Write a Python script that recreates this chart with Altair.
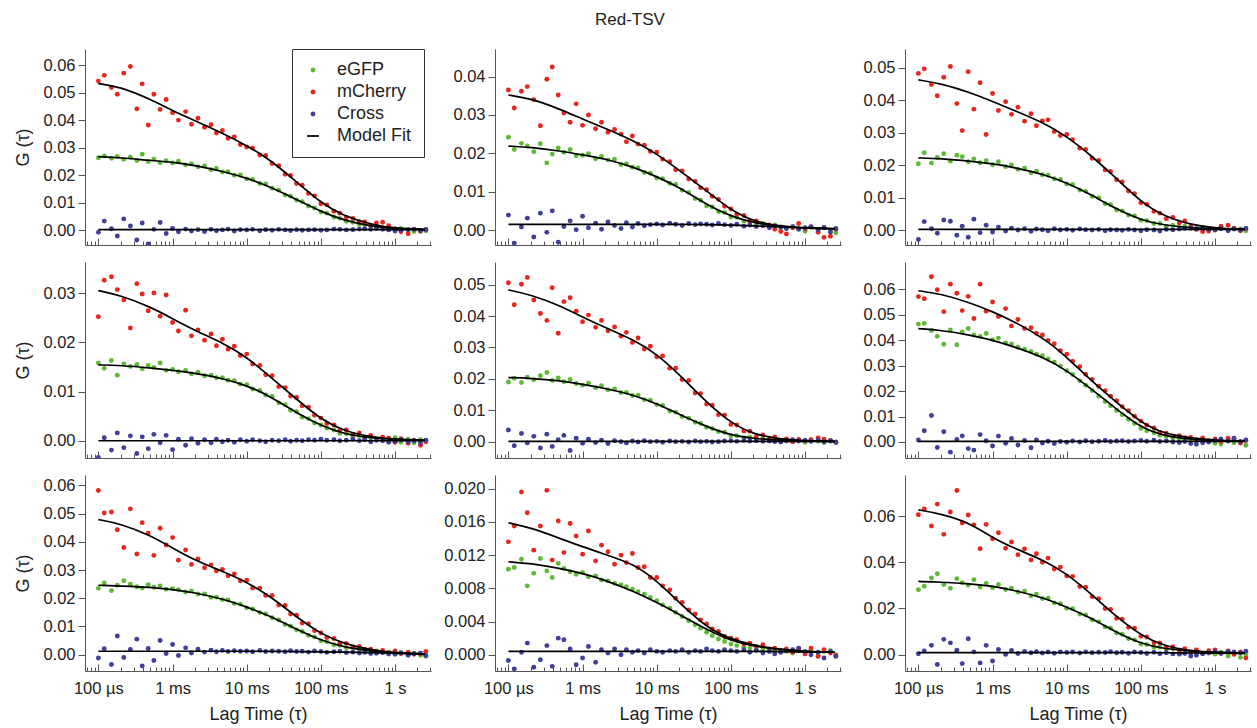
import altair as alt
import pandas as pd

FONT = "Liberation Sans"
G_UNIT = 1e-3  # every G(tau) value below is written in units of 1e-3

# lag times of the data points (ms) and of the fit-curve samples (ms)
LAG_MS = [0.10, 0.12, 0.15, 0.18, 0.22, 0.27, 0.33, 0.39, 0.47, 0.56, 0.68, 0.82,
          1.0, 1.2, 1.5, 1.8, 2.2, 2.7, 3.3, 3.9, 4.7, 5.6, 6.8, 8.2,
          10, 12, 15, 18, 22, 27, 33, 39, 47, 56, 68, 82,
          100, 120, 150, 180, 220, 270, 330, 390, 470, 560, 680, 820,
          1000, 1200, 1500, 1800, 2200, 2600]
FIT_LAG_MS = [0.1, 0.2, 0.5, 1, 2, 5, 10, 20, 50, 100, 200, 500, 1000, 2500]

# ---------------- panel 1 (top left) ----------------
P11_EGFP = [26.4, 27.0, 26.2, 26.9, 25.8, 26.6, 25.4, 27.7, 25.0, 25.9, 24.6, 25.3,
            24.5, 25.1, 23.8, 24.2, 23.1, 23.4, 22.0, 22.5, 21.2, 21.3, 20.0, 20.1,
            18.7, 18.5, 17.0, 16.8, 15.3, 14.6, 12.8, 12.4, 11.0, 10.4, 8.8, 8.1,
            6.6, 6.2, 4.8, 4.3, 3.2, 2.9, 2.1, 2.0, 1.3, 1.3, 0.8, 0.9,
            0.4, 0.6, 0.1, -0.5, -0.4, -0.2]
P11_MCHERRY = [54.3, 56.4, 52.0, 49.5, 57.2, 59.6, 44.2, 53.3, 38.3, 49.5, 44.0, 47.6,
               42.8, 40.1, 43.2, 38.6, 40.8, 37.5, 38.4, 35.4, 36.3, 33.5, 34.0, 31.2,
               30.3, 29.9, 27.4, 27.2, 24.3, 23.5, 20.4, 19.9, 17.0, 16.4, 13.4, 12.5,
               9.6, 9.2, 6.9, 6.2, 4.6, 4.3, 3.1, 3.0, 1.8, 2.6, 2.9, 1.6,
               0.5, -0.6, -1.3, 0.4, -0.3, 0.3]
P11_CROSS = [-0.8, 3.3, 0.5, -2.1, 4.1, 1.5, -3.6, 2.6, -5.0, 0.3, 2.8, -1.2,
             0.6, -0.6, 0.4, -0.3, 0.2, -0.5, 0.3, -0.2, 0.1, 0.4, -0.3, 0.2,
             0.1, 0.3, -0.2, 0.2, 0.0, 0.3, 0.1, -0.1, 0.2, 0.0, 0.1, 0.2,
             0.0, 0.1, 0.4, 0.3, 0.1, 0.2, 0.4, 0.5, 0.3, 0.6, 0.3, 0.1,
             -0.3, 0.0, 0.2, 0.3, -0.1, 0.2]
P11_EGFP_FIT = [26.8, 26.4, 25.4, 24.8, 23.6, 21.3, 19.0, 16.0, 10.8, 6.8, 3.6, 1.3, 0.6, 0.2]
P11_MCHERRY_FIT = [53.4, 52.2, 47.7, 43.5, 39.9, 35.0, 30.8, 26.0, 17.0, 10.0, 5.2, 1.9, 0.7, 0.2]
P11_CROSS_FIT = [0.2, 0.2, 0.2, 0.2, 0.2, 0.2, 0.2, 0.2, 0.2, 0.2, 0.2, 0.2, 0.2, 0.2]
P11_Y_DOMAIN = [-0.0054, 0.066]
P11_Y_TICKS = [0.0, 0.01, 0.02, 0.03, 0.04, 0.05, 0.06]

# ---------------- panel 2 (top middle) ----------------
P12_EGFP = [24.2, 21.0, 22.6, 21.9, 20.4, 22.5, 17.5, 19.8, 21.4, 20.3, 21.0, 19.4,
            19.5, 19.9, 18.6, 19.2, 18.3, 18.5, 17.1, 17.2, 16.4, 16.2, 15.0, 14.8,
            13.6, 13.4, 12.2, 11.9, 10.4, 9.8, 8.2, 7.8, 6.3, 6.0, 4.8, 4.6,
            3.4, 3.3, 2.3, 2.2, 1.5, 1.7, 1.0, 1.3, 0.6, 0.4, 0.9, 0.3,
            -0.3, 0.7, 0.1, 0.6, -0.4, -0.7]
P12_MCHERRY = [36.5, 31.8, 36.2, 37.4, 34.0, 27.2, 39.3, 42.5, 35.2, 30.5, 28.1, 32.9,
               27.3, 30.0, 26.4, 28.1, 25.5, 26.2, 25.0, 23.0, 24.5, 22.4, 22.1, 20.5,
               20.3, 18.5, 17.8, 15.7, 15.4, 13.3, 12.7, 11.0, 10.5, 8.8, 8.0, 6.2,
               5.5, 4.1, 3.8, 2.3, 2.4, 1.1, 1.3, 0.2, -0.4, -1.0, 0.6, 1.7,
               0.3, 0.8, -0.6, -1.9, -1.6, 0.2]
P12_CROSS = [3.9, -3.4, 0.8, 3.1, -1.8, 4.4, -0.6, 5.0, -3.2, 0.9, 2.4, 0.1,
             3.6, 0.6, 1.8, 0.2, 2.1, 1.2, 0.4, 1.9, 0.8, 1.7, 1.1, 1.4,
             1.6, 1.3, 1.8, 1.5, 1.2, 1.7, 1.4, 1.6, 1.5, 1.3, 1.7, 1.4,
             1.2, 1.5, 1.0, 1.3, 0.9, 1.2, 0.6, 1.0, 0.8, 0.4, 0.9, 0.2,
             0.6, 0.9, 0.1, 0.7, -0.5, 0.4]
P12_EGFP_FIT = [21.9, 21.6, 20.6, 19.6, 18.6, 16.4, 13.9, 11.2, 6.3, 3.6, 1.9, 0.9, 0.5, 0.3]
P12_MCHERRY_FIT = [35.2, 34.3, 31.5, 28.9, 26.6, 23.2, 19.9, 15.6, 9.8, 5.2, 2.2, 0.9, 0.5, 0.3]
P12_CROSS_FIT = [1.5, 1.5, 1.5, 1.5, 1.5, 1.5, 1.5, 1.5, 1.4, 1.3, 1.1, 0.8, 0.6, 0.4]
P12_Y_DOMAIN = [-0.0039, 0.0472]
P12_Y_TICKS = [0.0, 0.01, 0.02, 0.03, 0.04]

# ---------------- panel 3 (top right) ----------------
P13_EGFP = [20.4, 23.8, 20.6, 22.3, 23.5, 21.2, 23.0, 22.6, 21.0, 21.9, 20.7, 21.3,
            20.1, 21.0, 19.5, 20.0, 18.7, 19.0, 17.6, 18.1, 17.0, 16.9, 15.8, 15.6,
            14.2, 14.0, 12.3, 11.9, 10.4, 9.9, 8.1, 7.8, 6.2, 5.9, 4.6, 4.3,
            3.0, 2.9, 2.0, 2.0, 1.1, 1.5, 0.8, 1.2, 0.5, 0.4, 0.9, 0.2,
            -0.1, 0.6, 0.0, 0.5, 0.3, -0.2]
P13_MCHERRY = [48.2, 49.6, 44.8, 41.3, 47.0, 50.3, 38.9, 30.6, 48.7, 37.2, 45.3, 29.4,
               42.0, 36.8, 39.5, 35.6, 37.8, 33.5, 35.8, 32.1, 33.6, 33.9, 30.3, 29.1,
               29.4, 27.8, 25.2, 24.8, 22.1, 21.4, 18.5, 18.0, 15.5, 14.8, 12.0, 11.2,
               8.4, 7.9, 5.8, 5.2, 3.5, 3.9, 2.2, 2.8, 1.1, 0.2, -0.5, -0.3,
               0.2, 1.2, 1.5, 0.6, -0.2, 0.4]
P13_CROSS = [-2.9, 2.6, 0.4, -1.0, 3.1, 2.7, -1.6, 1.2, -2.2, 3.3, -0.8, 1.5,
             -0.6, 0.9, -0.3, 0.6, 0.0, 0.4, -0.4, 0.3, 0.1, -0.2, 0.4, 0.0,
             0.2, -0.1, 0.3, 0.1, 0.0, 0.2, -0.2, 0.1, 0.0, -0.1, 0.2, 0.0,
             -0.2, 0.1, 0.0, -0.3, 0.2, 0.1, 0.3, 0.5, 0.6, 0.4, 0.5, 0.2,
             0.1, 0.4, -0.2, 0.3, 0.0, 0.5]
P13_EGFP_FIT = [22.2, 22.0, 21.2, 20.4, 19.2, 17.1, 14.5, 11.2, 6.1, 3.1, 1.5, 0.7, 0.4, 0.2]
P13_MCHERRY_FIT = [46.2, 45.1, 42.3, 39.6, 36.7, 32.9, 28.8, 23.5, 15.3, 8.7, 4.3, 1.5, 0.6, 0.2]
P13_CROSS_FIT = [0.2, 0.2, 0.2, 0.2, 0.2, 0.2, 0.2, 0.2, 0.2, 0.2, 0.2, 0.2, 0.2, 0.2]
P13_Y_DOMAIN = [-0.0046, 0.0557]
P13_Y_TICKS = [0.0, 0.01, 0.02, 0.03, 0.04, 0.05]

# ---------------- panel 4 (middle left) ----------------
P21_EGFP = [15.8, 14.7, 16.3, 13.3, 15.6, 15.1, 15.5, 14.6, 15.3, 14.9, 15.8, 14.3,
            14.5, 14.0, 14.3, 13.6, 13.9, 13.2, 13.3, 12.8, 12.8, 12.3, 12.2, 11.5,
            11.4, 10.5, 10.2, 9.3, 9.0, 7.7, 7.3, 6.2, 5.9, 4.8, 4.5, 3.6,
            3.2, 2.6, 2.2, 1.5, 1.4, 0.9, 1.0, 0.5, 0.6, 0.2, 0.4, 0.1,
            0.6, -0.3, 0.3, -0.4, 0.2, 0.0]
P21_MCHERRY = [25.2, 32.6, 33.3, 30.7, 28.6, 22.9, 31.9, 29.8, 26.4, 30.0, 25.3, 29.6,
               24.0, 22.3, 26.5, 21.3, 22.5, 20.4, 21.7, 19.3, 20.6, 18.6, 19.2, 17.3,
               17.6, 15.6, 15.3, 13.4, 13.2, 11.0, 10.8, 9.1, 8.8, 7.1, 6.8, 5.2,
               4.6, 3.5, 3.2, 2.1, 2.2, 1.3, 1.6, 0.6, 1.1, 0.2, 0.7, 0.5,
               -0.3, 0.4, -0.5, 0.1, -0.9, -0.2]
P21_CROSS = [-3.4, 0.6, -1.9, 1.6, -1.4, 1.0, -2.6, 0.8, -1.6, 1.3, -0.4, 1.1,
             -1.8, 0.3, -0.9, 0.4, -0.5, 0.2, -0.4, 0.3, -0.2, 0.1, -0.3, 0.2,
             -0.1, 0.2, 0.0, -0.2, 0.1, 0.0, 0.2, -0.1, 0.1, 0.0, 0.2, 0.1,
             0.3, 0.1, 0.2, 0.0, 0.1, 0.3, 0.0, 0.2, -0.2, 0.1, 0.0, -0.3,
             -0.1, 0.2, -0.2, 0.0, -0.4, 0.1]
P21_EGFP_FIT = [15.4, 15.3, 14.8, 14.3, 13.7, 12.6, 11.2, 9.2, 5.4, 3.1, 1.4, 0.5, 0.3, 0.1]
P21_MCHERRY_FIT = [30.5, 29.5, 27.2, 24.8, 22.4, 19.7, 17.0, 13.2, 8.1, 4.4, 2.0, 0.7, 0.3, 0.1]
P21_CROSS_FIT = [0.0, 0.0, 0.0, 0.0, 0.0, 0.0, 0.0, 0.0, 0.0, 0.0, 0.0, 0.0, 0.0, 0.0]
P21_Y_DOMAIN = [-0.0035, 0.0363]
P21_Y_TICKS = [0.0, 0.01, 0.02, 0.03]

# ---------------- panel 5 (centre) ----------------
P22_EGFP = [19.0, 20.2, 18.8, 20.5, 19.7, 21.0, 22.0, 19.5, 20.3, 19.1, 19.8, 18.5,
            18.0, 18.6, 17.2, 17.8, 16.5, 16.8, 15.6, 15.7, 14.7, 14.8, 13.4, 13.2,
            11.8, 11.5, 9.8, 9.4, 8.0, 7.5, 6.2, 5.8, 4.6, 4.2, 3.2, 3.0,
            1.9, 1.9, 1.3, 1.4, 0.7, 1.0, 0.5, 0.8, 0.2, 0.5, 0.0, 0.4,
            -0.2, 0.6, 0.1, -0.3, 0.3, -0.1]
P22_MCHERRY = [50.6, 43.6, 50.1, 52.3, 45.1, 40.8, 38.6, 49.0, 34.5, 44.6, 45.8, 41.5,
               38.2, 40.3, 36.4, 38.6, 35.3, 36.5, 33.6, 34.8, 31.6, 33.0, 29.5, 30.4,
               27.0, 27.3, 23.4, 23.4, 19.8, 19.5, 15.5, 15.3, 12.0, 11.6, 8.6, 8.4,
               5.5, 5.3, 3.4, 3.3, 1.6, 2.1, 1.0, 1.5, 0.4, 0.9, 0.0, 0.7,
               0.3, 0.6, 1.2, 0.8, 0.4, -0.3]
P22_CROSS = [3.7, -1.3, 2.6, -0.4, 1.7, -2.0, 2.4, -1.5, 0.6, 2.0, -2.8, 1.1,
             -0.5, 0.8, -0.3, 0.5, -0.6, 0.3, 0.0, -0.4, 0.2, -0.1, 0.3, 0.0,
             0.1, -0.2, 0.2, 0.0, 0.1, -0.1, 0.2, 0.0, 0.1, -0.1, 0.0, 0.2,
             0.3, 0.1, 0.4, 0.2, 0.3, 0.1, 0.2, 0.0, -0.1, 0.3, 0.6, 0.2,
             0.4, 0.1, 0.5, 0.0, 0.2, -0.2]
P22_EGFP_FIT = [20.4, 20.2, 19.4, 18.3, 17.0, 14.8, 12.1, 8.7, 4.5, 2.1, 1.0, 0.4, 0.2, 0.1]
P22_MCHERRY_FIT = [48.3, 46.8, 43.3, 39.6, 36.4, 32.3, 27.9, 21.5, 11.9, 6.0, 2.3, 0.7, 0.3, 0.1]
P22_CROSS_FIT = [0.1, 0.1, 0.1, 0.1, 0.1, 0.1, 0.1, 0.1, 0.1, 0.1, 0.1, 0.1, 0.1, 0.1]
P22_Y_DOMAIN = [-0.0052, 0.0572]
P22_Y_TICKS = [0.0, 0.01, 0.02, 0.03, 0.04, 0.05]

# ---------------- panel 6 (middle right) ----------------
P23_EGFP = [46.3, 46.6, 43.8, 41.5, 38.4, 44.0, 38.2, 43.2, 44.6, 42.0, 41.5, 42.6,
            40.2, 40.8, 38.9, 38.5, 37.2, 36.4, 35.6, 34.5, 33.9, 32.6, 31.3, 29.8,
            28.0, 26.5, 24.0, 22.3, 20.2, 18.0, 15.9, 14.2, 12.4, 10.7, 8.9, 7.3,
            5.4, 4.4, 3.6, 2.6, 2.1, 1.6, 1.2, 0.7, 0.9, 0.5, 1.1, 0.2,
            -0.5, -0.8, 0.5, -0.3, 0.0, -1.3]
P23_MCHERRY = [57.1, 56.3, 64.9, 59.8, 51.2, 62.0, 58.4, 51.6, 57.2, 48.5, 62.0, 51.4,
               55.0, 49.3, 52.4, 45.6, 48.1, 44.6, 44.9, 42.7, 42.0, 39.9, 38.6, 35.9,
               34.5, 31.7, 29.6, 26.6, 24.6, 21.9, 20.1, 18.0, 16.2, 13.9, 12.3, 10.1,
               8.2, 6.6, 5.5, 3.7, 3.4, 2.4, 2.5, 1.7, 1.8, 0.8, 1.6, 0.5,
               1.2, 0.2, 1.5, 0.9, -0.4, 0.6]
P23_CROSS = [0.8, 4.4, 10.4, -2.2, 4.0, -4.0, 1.0, 2.4, -2.6, -3.2, 2.9, 0.5,
             -1.6, 2.3, -0.5, 1.4, -1.2, 0.6, -2.3, 0.8, -0.4, 0.3, -0.6, 0.2,
             -0.1, 0.4, 0.0, 0.5, 0.1, 0.3, 0.6, 0.2, 0.4, 0.5, 0.2, 0.4,
             0.6, 0.3, 0.7, 0.2, 0.4, 0.0, -0.2, 0.2, -0.6, -0.9, -0.3, 0.0,
             0.6, 1.2, 0.4, 1.5, 0.2, 0.8]
P23_EGFP_FIT = [44.5, 43.9, 42.0, 40.0, 37.3, 33.1, 28.1, 21.5, 12.3, 5.7, 2.4, 0.9, 0.5, 0.3]
P23_MCHERRY_FIT = [59.4, 58.2, 54.7, 51.2, 47.2, 40.6, 33.4, 24.8, 14.9, 7.7, 3.3, 1.5, 0.7, 0.3]
P23_CROSS_FIT = [0.2, 0.2, 0.2, 0.2, 0.2, 0.2, 0.2, 0.2, 0.2, 0.2, 0.2, 0.2, 0.2, 0.2]
P23_Y_DOMAIN = [-0.0063, 0.0707]
P23_Y_TICKS = [0.0, 0.01, 0.02, 0.03, 0.04, 0.05, 0.06]

# ---------------- panel 7 (bottom left) ----------------
P31_EGFP = [23.5, 25.4, 22.7, 24.6, 26.2, 25.0, 24.1, 23.6, 24.8, 23.9, 24.4, 23.2,
            23.4, 23.0, 22.2, 22.6, 21.5, 21.5, 20.3, 20.4, 19.5, 19.4, 18.1, 17.9,
            16.6, 16.2, 14.9, 14.4, 13.1, 12.3, 10.7, 10.1, 8.8, 8.2, 6.9, 6.3,
            4.9, 4.6, 3.5, 3.3, 2.4, 2.4, 1.7, 1.8, 1.1, 1.3, 0.7, 0.9,
            0.4, 0.7, 0.0, 0.5, -0.2, -0.6]
P31_MCHERRY = [58.2, 50.2, 50.6, 44.3, 38.0, 51.7, 35.7, 46.8, 43.1, 35.2, 44.8, 38.9,
               41.5, 33.5, 37.1, 32.0, 33.9, 30.8, 31.8, 29.7, 30.2, 28.0, 28.6, 26.2,
               26.4, 23.6, 23.6, 21.0, 21.0, 17.6, 17.4, 14.4, 14.0, 11.2, 11.0, 8.5,
               7.7, 6.1, 5.7, 4.0, 4.0, 2.7, 2.9, 1.8, 1.9, 1.0, 1.5, 0.6,
               1.3, 0.4, 0.9, 0.1, 0.3, 1.1]
P31_CROSS = [-1.2, 2.1, -3.5, 6.6, -1.0, 1.8, 5.5, -4.0, 2.2, -2.1, 5.0, 0.4,
             3.6, -0.3, 2.4, 0.6, 1.9, 0.9, 1.6, 1.0, 1.5, 1.1, 1.4, 1.2,
             1.3, 1.0, 1.5, 1.1, 1.3, 1.2, 1.0, 1.4, 1.1, 1.2, 0.9, 1.3,
             1.1, 0.8, 1.0, 1.2, 0.7, 0.9, 0.6, 0.8, 0.4, 0.5, 0.7, 0.2,
             0.1, 0.6, -0.2, 0.3, 0.5, -0.3]
P31_EGFP_FIT = [24.6, 24.3, 23.9, 23.1, 22.0, 19.6, 16.9, 13.9, 8.6, 5.1, 2.7, 1.2, 0.6, 0.2]
P31_MCHERRY_FIT = [47.9, 46.4, 42.3, 37.8, 33.4, 29.3, 25.7, 21.0, 12.8, 7.4, 3.9, 1.5, 0.7, 0.2]
P31_CROSS_FIT = [1.2, 1.2, 1.2, 1.2, 1.2, 1.2, 1.2, 1.2, 1.1, 1.0, 0.9, 0.7, 0.5, 0.3]
P31_Y_DOMAIN = [-0.0058, 0.0637]
P31_Y_TICKS = [0.0, 0.01, 0.02, 0.03, 0.04, 0.05, 0.06]

# ---------------- panel 8 (bottom middle) ----------------
P32_EGFP = [10.3, 10.5, 11.5, 8.3, 9.8, 11.6, 10.1, 9.3, 11.0, 10.4, 10.0, 9.7,
            9.9, 9.4, 9.5, 9.0, 8.9, 8.6, 8.4, 8.2, 7.9, 7.6, 7.3, 6.9,
            6.5, 6.0, 5.6, 5.1, 4.6, 4.1, 3.6, 3.2, 2.7, 2.3, 1.9, 1.6,
            1.3, 1.1, 0.9, 0.8, 0.6, 0.6, 0.4, 0.5, 0.3, 0.4, 0.2, 0.5,
            0.1, 0.6, -0.1, 0.4, 0.5, 0.0]
P32_MCHERRY = [13.6, 15.5, 19.6, 17.1, 12.6, 15.5, 19.8, 11.4, 16.1, 12.3, 15.8, 14.3,
               12.1, 14.9, 11.3, 13.2, 12.4, 10.9, 12.0, 11.1, 12.2, 10.5, 10.6, 9.3,
               9.3, 8.3, 7.8, 6.8, 6.3, 5.4, 4.9, 4.2, 3.7, 3.1, 2.8, 2.2,
               2.0, 1.8, 1.3, 1.4, 1.0, 1.2, 0.7, 0.8, 0.5, 0.7, 0.3, 0.7,
               0.1, 0.8, -0.2, 0.6, 0.2, -0.1]
P32_CROSS = [-0.7, -1.7, 0.3, 1.4, -1.5, -0.6, 1.1, -1.4, 2.0, 1.8, 0.7, -1.2,
             -0.4, 1.0, -0.9, 0.6, 0.2, 0.7, 0.0, 0.6, 0.3, 0.5, 0.2, 0.6,
             0.4, 0.3, 0.5, 0.4, 0.6, 0.3, 0.5, 0.4, 0.7, 0.5, 0.4, 0.6,
             0.5, 0.4, 0.6, 0.3, 0.5, 0.2, 0.4, 0.1, 0.3, 0.5, 0.6, 0.8,
             0.4, 0.0, 0.3, -0.4, 0.4, -0.2]
P32_EGFP_FIT = [11.2, 11.0, 10.4, 9.8, 9.0, 7.6, 6.3, 4.9, 2.9, 1.7, 1.0, 0.6, 0.4, 0.3]
P32_MCHERRY_FIT = [15.9, 15.3, 14.0, 13.0, 12.1, 10.9, 8.9, 6.3, 3.1, 1.9, 1.1, 0.6, 0.4, 0.3]
P32_CROSS_FIT = [0.4, 0.4, 0.4, 0.4, 0.4, 0.4, 0.4, 0.4, 0.4, 0.4, 0.4, 0.4, 0.3, 0.3]
P32_Y_DOMAIN = [-0.00196, 0.02165]
P32_Y_TICKS = [0.0, 0.004, 0.008, 0.012, 0.016, 0.020]

# ---------------- panel 9 (bottom right) ----------------
P33_EGFP = [28.1, 29.6, 33.2, 35.0, 30.4, 28.7, 32.9, 31.2, 30.1, 32.4, 29.3, 30.8,
            29.0, 30.4, 28.2, 28.8, 27.1, 27.5, 25.5, 26.2, 24.3, 24.4, 22.4, 22.0,
            20.1, 19.9, 17.6, 17.2, 15.1, 14.3, 12.0, 11.4, 9.4, 8.8, 7.0, 6.4,
            4.6, 4.4, 3.2, 3.2, 2.1, 2.5, 1.4, 2.0, 0.8, 1.5, 0.5, 1.3,
            0.2, 1.0, -0.6, 0.4, -1.2, 0.3]
P33_MCHERRY = [60.6, 63.1, 55.7, 65.2, 52.1, 61.8, 71.1, 57.0, 60.5, 56.2, 45.9, 56.4,
               50.2, 52.8, 46.1, 48.8, 43.3, 45.8, 41.0, 43.7, 40.0, 41.8, 37.1, 37.9,
               34.1, 33.9, 29.5, 29.2, 25.1, 24.2, 20.0, 19.6, 15.7, 15.3, 11.8, 11.4,
               7.9, 7.6, 5.1, 5.0, 3.0, 3.4, 1.9, 2.6, 1.2, 2.0, 0.6, 1.7,
               2.0, 0.5, 1.6, 0.1, 1.1, -1.5]
P33_CROSS = [0.4, 1.6, 4.0, -4.3, 6.6, 5.1, 1.9, -3.9, 6.9, 1.2, -3.6, 4.0,
             -2.8, 2.2, 0.1, 1.8, 0.5, 1.4, 0.8, 1.3, 0.7, 1.1, 0.6, 1.2,
             0.9, 1.1, 0.7, 1.2, 0.8, 1.0, 0.9, 1.3, 0.8, 1.0, 0.6, 1.1,
             0.9, 0.5, 1.0, 0.4, 0.8, 0.3, 0.2, 0.5, -0.6, -0.3, 0.4, 0.7,
             1.3, 0.6, 1.4, 1.1, 0.8, 1.5]
P33_EGFP_FIT = [31.7, 31.4, 30.7, 29.7, 27.8, 24.5, 20.6, 16.3, 9.1, 4.8, 2.6, 1.4, 1.0, 0.7]
P33_MCHERRY_FIT = [62.7, 61.0, 57.0, 50.5, 45.9, 40.8, 35.0, 27.1, 15.6, 8.4, 3.8, 1.4, 0.9, 0.7]
P33_CROSS_FIT = [0.9, 0.9, 0.9, 0.9, 0.9, 0.9, 0.9, 0.9, 0.9, 0.9, 0.8, 0.7, 0.6, 0.5]
P33_Y_DOMAIN = [-0.0071, 0.0778]
P33_Y_TICKS = [0.0, 0.02, 0.04, 0.06]

SERIES = ["eGFP", "mCherry", "Cross"]
LEGEND_DOMAIN = ["eGFP", "mCherry", "Cross", "Model Fit"]
LEGEND_COLORS = ["#5fb936", "#e5261f", "#3e3f98", "#000000"]
LINE_SYMBOL = "M-2.4,-0.36H2.4V0.36H-2.4Z"
LEGEND_SHAPES = ["circle", "circle", "circle", LINE_SYMBOL]

X_DOMAIN = [6.6e-5, 3.05]
X_TICKS = [7e-5, 8e-5, 9e-5,
           1e-4, 2e-4, 3e-4, 4e-4, 5e-4, 6e-4, 7e-4, 8e-4, 9e-4,
           1e-3, 2e-3, 3e-3, 4e-3, 5e-3, 6e-3, 7e-3, 8e-3, 9e-3,
           0.01, 0.02, 0.03, 0.04, 0.05, 0.06, 0.07, 0.08, 0.09,
           0.1, 0.2, 0.3, 0.4, 0.5, 0.6, 0.7, 0.8, 0.9,
           1.0, 2.0, 3.0]
MAJOR = "abs(log(datum.value)/LN10 - round(log(datum.value)/LN10)) < 0.001"
LABEL_EXPR = ("abs(datum.value - 0.0001) < 0.000000001 ? '100 µs' : "
              "abs(datum.value - 0.001) < 0.00000001 ? '1 ms' : "
              "abs(datum.value - 0.01) < 0.0000001 ? '10 ms' : "
              "abs(datum.value - 0.1) < 0.000001 ? '100 ms' : "
              "abs(datum.value - 1) < 0.00001 ? '1 s' : ''")

PANELS = [
    ([P11_EGFP, P11_MCHERRY, P11_CROSS], [P11_EGFP_FIT, P11_MCHERRY_FIT, P11_CROSS_FIT], P11_Y_DOMAIN, P11_Y_TICKS, ".2f"),
    ([P12_EGFP, P12_MCHERRY, P12_CROSS], [P12_EGFP_FIT, P12_MCHERRY_FIT, P12_CROSS_FIT], P12_Y_DOMAIN, P12_Y_TICKS, ".2f"),
    ([P13_EGFP, P13_MCHERRY, P13_CROSS], [P13_EGFP_FIT, P13_MCHERRY_FIT, P13_CROSS_FIT], P13_Y_DOMAIN, P13_Y_TICKS, ".2f"),
    ([P21_EGFP, P21_MCHERRY, P21_CROSS], [P21_EGFP_FIT, P21_MCHERRY_FIT, P21_CROSS_FIT], P21_Y_DOMAIN, P21_Y_TICKS, ".2f"),
    ([P22_EGFP, P22_MCHERRY, P22_CROSS], [P22_EGFP_FIT, P22_MCHERRY_FIT, P22_CROSS_FIT], P22_Y_DOMAIN, P22_Y_TICKS, ".2f"),
    ([P23_EGFP, P23_MCHERRY, P23_CROSS], [P23_EGFP_FIT, P23_MCHERRY_FIT, P23_CROSS_FIT], P23_Y_DOMAIN, P23_Y_TICKS, ".2f"),
    ([P31_EGFP, P31_MCHERRY, P31_CROSS], [P31_EGFP_FIT, P31_MCHERRY_FIT, P31_CROSS_FIT], P31_Y_DOMAIN, P31_Y_TICKS, ".2f"),
    ([P32_EGFP, P32_MCHERRY, P32_CROSS], [P32_EGFP_FIT, P32_MCHERRY_FIT, P32_CROSS_FIT], P32_Y_DOMAIN, P32_Y_TICKS, ".3f"),
    ([P33_EGFP, P33_MCHERRY, P33_CROSS], [P33_EGFP_FIT, P33_MCHERRY_FIT, P33_CROSS_FIT], P33_Y_DOMAIN, P33_Y_TICKS, ".2f"),
]

PANEL_W, PANEL_H = 346, 196


def make_panel(idx, pts_lists, fit_lists, ydom, yticks, yfmt):
    row, col = divmod(idx, 3)
    prow, frow = [], []
    for name, vals in zip(SERIES, pts_lists):
        assert len(vals) == len(LAG_MS), (idx, name, len(vals))
        for t, v in zip(LAG_MS, vals):
            prow.append({"lag": t / 1000.0, "g": v * G_UNIT, "series": name})
    for name, vals in zip(SERIES, fit_lists):
        assert len(vals) == len(FIT_LAG_MS), (idx, name, len(vals))
        for t, v in zip(FIT_LAG_MS, vals):
            frow.append({"lag": t / 1000.0, "g": v * G_UNIT, "series": name})
    pdf, fdf = pd.DataFrame(prow), pd.DataFrame(frow)

    x_axis = alt.Axis(
        values=X_TICKS, labelExpr=LABEL_EXPR, labels=(row == 2), labelOverlap=False,
        labelFlush=False, tickSize={"expr": f"{MAJOR} ? -7 : -4"}, labelPadding=16,
        title="Lag Time (τ)" if row == 2 else None, titlePadding=6, grid=False,
    )
    y_axis = alt.Axis(
        values=yticks, format=yfmt, tickSize=7, labelPadding=3, grid=False,
        title="G (τ)" if col == 0 else None, titlePadding=10,
    )
    x = alt.X("lag:Q", scale=alt.Scale(type="log", domain=X_DOMAIN, nice=False), axis=x_axis)
    y = alt.Y("g:Q", scale=alt.Scale(domain=ydom, nice=False, zero=False), axis=y_axis)

    if idx == 0:
        legend = alt.Legend(
            title=None, orient="none", legendX=207, legendY=0, direction="vertical",
            labelFont=FONT, labelFontSize=18, labelColor="#222222", labelOffset=15,
            symbolSize=24, symbolStrokeWidth=0, padding=12, rowPadding=4,
            strokeColor="#333333", fillColor="white", labelLimit=300,
        )
    else:
        legend = None
    color = alt.Color("series:N", scale=alt.Scale(domain=LEGEND_DOMAIN, range=LEGEND_COLORS), legend=legend)
    shape = alt.Shape("series:N", scale=alt.Scale(domain=LEGEND_DOMAIN, range=LEGEND_SHAPES), legend=legend)

    points = alt.Chart(pdf).mark_point(filled=True, size=24, opacity=1, clip=True).encode(
        x=x, y=y, color=color, shape=shape
    )
    fits = alt.Chart(fdf).mark_line(color="black", strokeWidth=1.7, interpolate="basis", clip=True).encode(
        x=x, y=y, detail="series:N"
    )
    return alt.layer(points, fits).properties(width=PANEL_W, height=PANEL_H)


panels = [make_panel(i, *p) for i, p in enumerate(PANELS)]

chart = (
    alt.concat(*panels, columns=3)
    .properties(
        spacing={"row": 17, "column": 64},
        bounds="flush",
        padding={"left": 14, "top": 10, "right": 2, "bottom": 2},
        title=alt.TitleParams(
            "Red-TSV", font=FONT, fontSize=17, fontWeight="normal", color="#222222",
            anchor="middle", offset=20, dx=-3,
        ),
    )
    .resolve_scale(x="independent", y="independent", color="independent", shape="independent")
    .configure(font=FONT, background="white")
    .configure_view(stroke=None)
    .configure_axis(
        domainColor="#555555", tickColor="#555555", labelColor="#222222", titleColor="#222222",
        labelFont=FONT, titleFont=FONT, labelFontSize=16.5, titleFontSize=18,
        titleFontWeight="normal", domainWidth=1, tickWidth=1,
    )
)

chart.save("out.html", embed_options={"renderer": "svg", "actions": False})
